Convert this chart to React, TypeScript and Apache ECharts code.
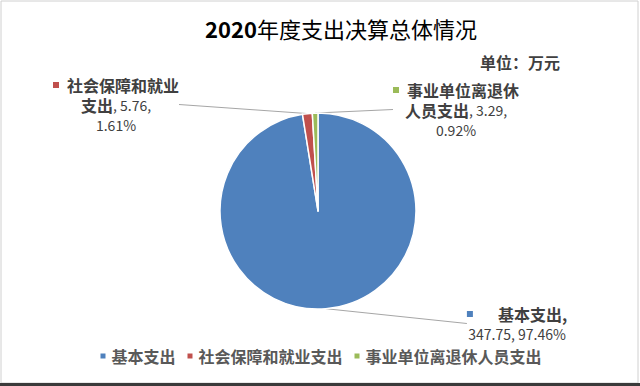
import React, { useEffect, useRef } from "react";
import * as echarts from "echarts";

// ---- data ----
const categories = ["基本支出", "社会保障和就业支出", "事业单位离退休人员支出"];
const values = [347.75, 5.76, 3.29];
// label name split into lines as shown on the chart
const labelNameLines = [["基本支出"], ["社会保障和就业", "支出"], ["事业单位离退休", "人员支出"]];
const titleYear = "2020";
const titleText = "年度支出决算总体情况";
const unitText = "单位：万元";

// ---- styles / layout ----
const COLORS = ["#4F81BD", "#C0504D", "#9BBB59"];
const FONT = "'Noto Sans CJK SC', 'Noto Sans', sans-serif";
const LABEL_POS = [
  [517, 304],
  [116, 75],
  [456, 80],
];
const MARKER_GAP = [25, 8, 8];

export default function App() {
  const ref = useRef<HTMLDivElement>(null);
  useEffect(() => {
    if (!ref.current) return;
    const chart = echarts.init(ref.current, null, { renderer: "svg" });
    const total = values.reduce((a, b) => a + b, 0);
    const rich: any = {
      n: { fontSize: 16, fontWeight: "bold", color: "#404040", fontFamily: FONT, lineHeight: 20 },
      v: { fontSize: 14, color: "#404040", fontFamily: FONT, lineHeight: 20 },
    };
    COLORS.forEach((c, i) => {
      rich["m" + i] = { width: 6, height: 6, backgroundColor: c };
      rich["g" + i] = { width: MARKER_GAP[i], height: 6 };
    });
    chart.setOption({
      animation: false,
      backgroundColor: "#ffffff",
      graphic: [
        {
          type: "rect",
          shape: { x: 1, y: 1, width: 637, height: 382 },
          style: { fill: "none", stroke: "#d0d0d0", lineWidth: 1 },
          silent: true,
        },
        {
          type: "line",
          shape: { x1: 0, y1: 384.5, x2: 640, y2: 384.5 },
          style: { stroke: "#3a3a3a", lineWidth: 3 },
          silent: true,
        },
        {
          type: "text",
          left: 205,
          top: 17,
          style: {
            text: `{d|${titleYear}}{c|${titleText}}`,
            rich: {
              d: { fontSize: 22, fontWeight: "bold", color: "#595959", fontFamily: FONT },
              c: { fontSize: 22, fontWeight: "normal", color: "#595959", fontFamily: FONT },
            },
          },
        },
        {
          type: "text",
          left: 480,
          top: 54,
          style: {
            text: unitText,
            fontSize: 16,
            fontWeight: "bold",
            fill: "#404040",
            fontFamily: FONT,
          },
        },
      ],
      legend: {
        bottom: 17,
        left: "center",
        icon: "rect",
        itemWidth: 7,
        itemHeight: 7,
        itemGap: 10,
        data: categories,
        textStyle: { fontSize: 16, fontWeight: "bold", color: "#595959", fontFamily: FONT },
      },
      series: [
        {
          type: "pie",
          center: [318, 211],
          radius: 98,
          startAngle: 90,
          clockwise: true,
          itemStyle: { borderColor: "#ffffff", borderWidth: 1.5 },
          data: categories.map((name, i) => ({
            name,
            value: values[i],
            itemStyle: { color: COLORS[i] },
          })),
          label: {
            show: true,
            formatter: (p: any) => {
              const i = p.dataIndex;
              const parts = labelNameLines[i];
              const head = `{m${i}|}{g${i}|}`;
              const val = values[i].toFixed(2);
              const pct = ((values[i] / total) * 100).toFixed(2) + "%";
              if (parts.length === 1) {
                return `${head}{n|${parts[0]},}\n{v|${val}, ${pct}}`;
              }
              return `${head}{n|${parts[0]}}\n{n|${parts[1]}}{v|, ${val},}\n{v|${pct}}`;
            },
            rich,
            align: "center",
          },
          labelLine: {
            show: true,
            length: 0,
            length2: 0,
            lineStyle: { color: "#a6a6a6", width: 1 },
          },
          labelLayout: (p: any) => ({
            x: LABEL_POS[p.dataIndex][0],
            y: LABEL_POS[p.dataIndex][1],
            align: "center",
            verticalAlign: "top",
          }),
        },
      ],
    });
    return () => chart.dispose();
  }, []);
  return (
    <div
      ref={ref}
      style={{ position: "fixed", left: 0, top: 0, width: 640, height: 386, background: "#fff" }}
    />
  );
}
